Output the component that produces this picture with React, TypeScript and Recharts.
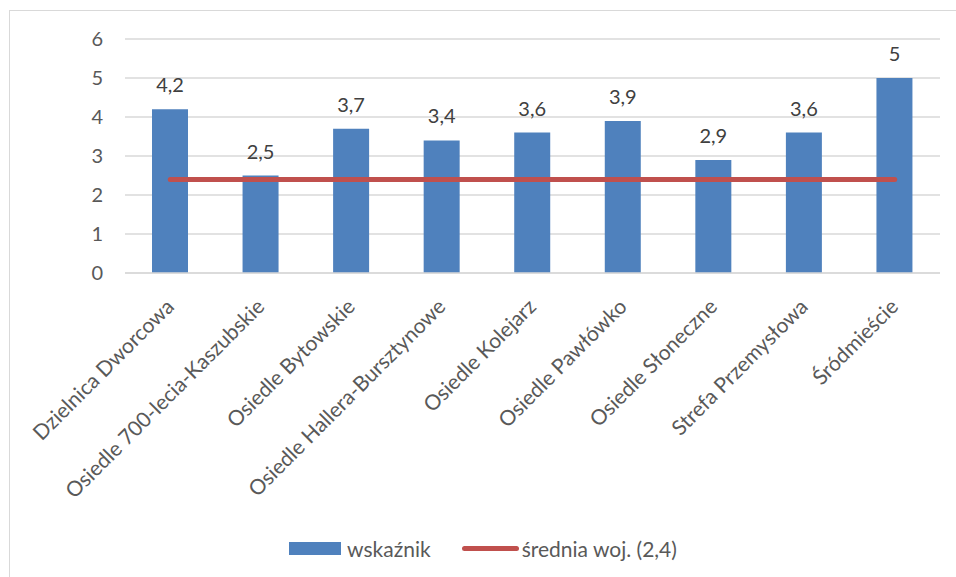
import { ComposedChart, Bar, Line, XAxis, YAxis, CartesianGrid, Legend, LabelList } from 'recharts'

const districts = [
  'Dzielnica Dworcowa',
  'Osiedle 700-lecia-Kaszubskie',
  'Osiedle Bytowskie',
  'Osiedle Hallera-Bursztynowe',
  'Osiedle Kolejarz',
  'Osiedle Pawłówko',
  'Osiedle Słoneczne',
  'Strefa Przemysłowa',
  'Śródmieście',
]
const indicator = [4.2, 2.5, 3.7, 3.4, 3.6, 3.9, 2.9, 3.6, 5]
const voivodeshipAvg = [2.4, 2.4, 2.4, 2.4, 2.4, 2.4, 2.4, 2.4, 2.4]
const yTicks = [0, 1, 2, 3, 4, 5, 6]

const BLUE = '#4F81BD'
const RED = '#C0504D'
const FONT = 'Lato, "Open Sans", sans-serif'
const TEXT = '#595959'

const data = districts.map((name, i) => ({ name, wsk: indicator[i], avg: voivodeshipAvg[i] }))

const fmt = (v: number) => String(v).replace('.', ',')

function XTick({ x, payload }: any) {
  const ax = x + 5
  const ay = 308
  return (
    <text x={ax} y={ay} transform={`rotate(-45 ${ax} ${ay})`} textAnchor="end"
      fill={TEXT} fontSize={21} fontFamily={FONT}>
      {payload.value}
    </text>
  )
}

function LegendContent({ payload }: any) {
  return (
    <div style={{
      display: 'flex', justifyContent: 'center', alignItems: 'center', height: 30,
      fontFamily: FONT, fontSize: 21, color: TEXT,
    }}>
      {(payload || []).map((e: any, i: number) => (
        <div key={i} style={{ display: 'flex', alignItems: 'center', marginLeft: i ? 31 : 0 }}>
          {e.dataKey === 'wsk'
            ? <span style={{ display: 'inline-block', width: 52, height: 13, background: BLUE, marginRight: 6 }} />
            : <span style={{ display: 'inline-block', width: 57, height: 5, borderRadius: 3, background: RED, marginRight: 3 }} />}
          <span>{e.value}</span>
        </div>
      ))}
    </div>
  )
}

export default function App() {
  return (
    <div style={{ position: 'fixed', left: 0, top: 0, width: 956, height: 577, overflow: 'hidden', background: '#fff' }}>
      <div style={{
        position: 'absolute', left: 9, top: 10, width: 980, height: 600,
        border: '1px solid #d9d9d9', boxSizing: 'border-box',
      }} />
      <div style={{ position: 'absolute', left: 0, top: 0 }}>
        <ComposedChart width={956} height={577} data={data}
          margin={{ top: 39, right: 16, left: 0, bottom: 14 }}>
          <CartesianGrid vertical={false} stroke="#d9d9d9" strokeWidth={1.5} />
          <XAxis dataKey="name" height={260} interval={0} tickLine={false}
            axisLine={{ stroke: '#d9d9d9', strokeWidth: 1.5 }} tick={<XTick />} />
          <YAxis width={125} domain={[0, 6]} ticks={yTicks} tickLine={false} axisLine={false}
            tickMargin={16} tick={{ fill: TEXT, fontSize: 20, fontFamily: FONT }} />
          <Legend verticalAlign="bottom" height={30} wrapperStyle={{ left: 20, width: 926 }}
            content={<LegendContent />} />
          <Bar dataKey="wsk" name="wskaźnik" fill={BLUE} barSize={36} isAnimationActive={false}>
            <LabelList dataKey="wsk" position="top" offset={17} formatter={(v: any) => fmt(v)}
              fill="#404040" fontSize={20} fontFamily={FONT} />
          </Bar>
          <Line dataKey="avg" name="średnia woj. (2,4)" stroke={RED} strokeWidth={5}
            strokeLinecap="round" dot={false} activeDot={false} isAnimationActive={false} />
        </ComposedChart>
      </div>
    </div>
  )
}
